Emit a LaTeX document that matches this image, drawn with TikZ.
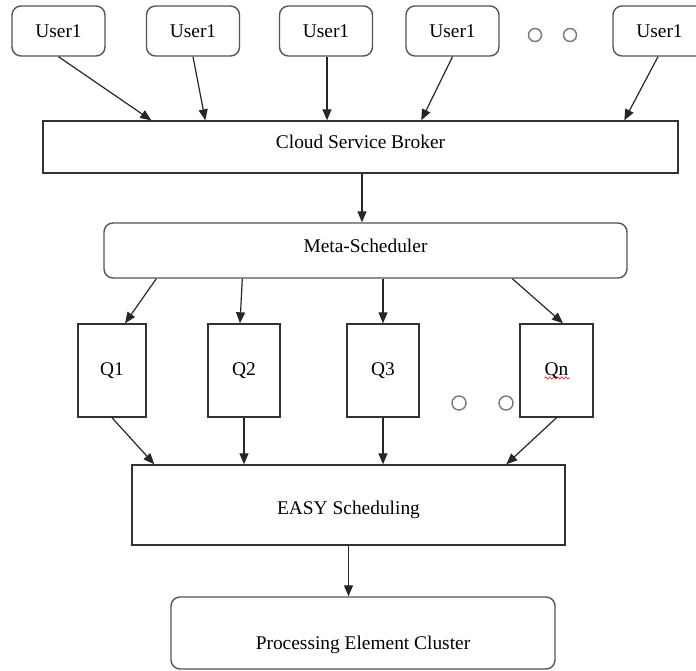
\documentclass[tikz,border=0pt]{standalone}
\usepackage{fontspec}
\setmainfont{Liberation Serif}
\usetikzlibrary{arrows.meta,decorations.pathmorphing}
\definecolor{boxline}{RGB}{50,50,50}
\definecolor{roundline}{RGB}{85,85,85}
\definecolor{dotgray}{RGB}{120,120,120}

\begin{document}
\begin{tikzpicture}[x=1pt,y=-1pt,
    every node/.style={font=\fontsize{19.4}{23}\selectfont, inner sep=0pt},
    rectbox/.style={draw=boxline, line width=1.4pt},
    roundbox/.style={draw=roundline, line width=1.4pt, rounded corners=9pt},
    userbox/.style={roundbox, minimum width=93pt, minimum height=50pt},
    qbox/.style={rectbox, minimum width=72pt, minimum height=93pt},
    flow/.style={draw=black!85, line width=1.2pt, -{Triangle[length=11pt,width=9pt]}},
    dotmark/.style={circle, draw=dotgray, line width=1.4pt, minimum size=13pt}]
  \useasboundingbox (0,0) rectangle (696,670);
  \clip (0,0) rectangle (696,670);
  % users
  \node[userbox] (u1) at (58.5,31) {User1};
  \node[userbox] (u2) at (193,31) {User1};
  \node[userbox] (u3) at (326,31) {User1};
  \node[userbox] (u4) at (452.5,31) {User1};
  \node[userbox] (u5) at (659.5,31) {User1};
  \foreach \x [count=\i] in {535,570}
    \node[dotmark] (udot\i) at (\x,35) {};
  % broker and meta-scheduler
  \node[rectbox, minimum width=635pt, minimum height=52pt, text height=14pt, text depth=11pt] (broker) at (360.5,147) {Cloud Service Broker};
  \node[roundbox, minimum width=523pt, minimum height=55pt, text height=14pt, text depth=10pt] (meta) at (365.5,250.5) {Meta-Scheduler};
  % queues
  \node[qbox, minimum width=68pt] (q1) at (112,370.5) {Q1};
  \node[qbox] (q2) at (244,370.5) {Q2};
  \node[qbox] (q3) at (383,370.5) {Q3};
  \node[qbox, minimum width=73pt] (qn) at (556.5,370.5) {Qn};
  \draw[red, line width=0.6pt, decorate, decoration={snake, amplitude=1.1pt, segment length=4pt}]
    ([shift={(-12,7.5)}]qn.center) -- ([shift={(13,7.5)}]qn.center);
  \foreach \x [count=\i] in {459,506}
    \node[dotmark, minimum size=14pt] (qdot\i) at (\x,403) {};
  % scheduling and cluster
  \node[rectbox, minimum width=433pt, minimum height=80pt, text height=22pt, text depth=3pt] (easy) at (348.5,505) {EASY Scheduling};
  \node[roundbox, minimum width=384pt, minimum height=72pt, text height=36pt, text depth=3pt] (pec) at (363,633) {Processing Element Cluster};

  % arrows users -> broker
  \draw[flow] (u1.south) -- ([xshift=109]broker.north west);
  \draw[flow] (u2.south) -- ([xshift=163]broker.north west);
  \draw[flow] ([xshift=1]u3.south) -- ([xshift=1]u3.south |- broker.north);
  \draw[flow] (u4.south) -- ([xshift=379]broker.north west);
  \draw[flow] ([xshift=-1.5]u5.south) -- ([xshift=582]broker.north west);
  \draw[flow] ([xshift=1.5]broker.south) -- ([xshift=1.5]broker.south |- meta.north);
  % meta -> queues
  \draw[flow] ([xshift=53]meta.south west) -- ([xshift=13]q1.north);
  \draw[flow] ([xshift=139]meta.south west) -- ([xshift=-4]q2.north);
  \draw[flow] (q3.north |- meta.south) -- (q3.north);
  \draw[flow] ([xshift=409]meta.south west) -- ([xshift=6.5]qn.north);
  % queues -> easy
  \draw[flow] (q1.south) -- ([xshift=23]easy.north west);
  \draw[flow] (q2.south) -- (q2.south |- easy.north);
  \draw[flow] (q3.south) -- (q3.south |- easy.north);
  \draw[flow] (qn.south) -- ([xshift=375]easy.north west);
  \draw[flow] (easy.south) -- (easy.south |- pec.north);
\end{tikzpicture}
\end{document}
